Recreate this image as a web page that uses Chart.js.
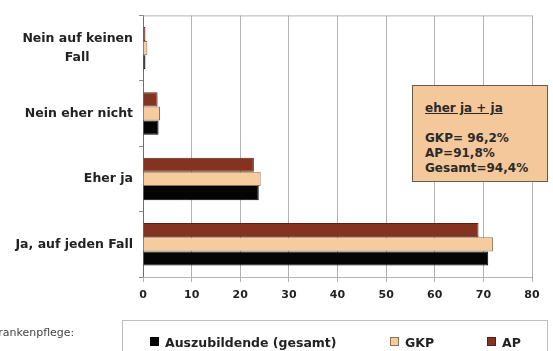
<!DOCTYPE html>
<html>
<head>
<meta charset="utf-8">
<script src="https://cdn.jsdelivr.net/npm/chart.js@4"></script>
<style>
  body { margin: 0; background: #fff; font-family: "DejaVu Sans", sans-serif; }
  #wrap { position: relative; width: 553px; height: 351px; overflow: hidden; }
  #note {
    position: absolute; left: 412px; top: 85px; width: 136px; height: 97px;
    background: #f5c89b; border: 1px solid #6b5a4e; box-sizing: border-box;
    font-size: 12px; font-weight: bold; color: #2a2a2a; padding: 15px 0 0 12px; line-height: 15px;
  }
  #note .head { text-decoration: underline; margin-bottom: 15px; }
  #side { position: absolute; left: -9px; top: 326px; font-size: 11px; color: #444; white-space: nowrap; }
  #legend {
    position: absolute; left: 122px; top: 320px; width: 426px; height: 40px;
    border: 1px solid #bdbdbd; box-sizing: border-box;
  }
  #legend span { position: absolute; top: 14px; font-size: 12.5px; font-weight: bold; color: #222; white-space: nowrap; }
  #legend i { display: inline-block; width: 7px; height: 7px; margin-right: 6px; vertical-align: 1px; }
</style>
</head>
<body>
<div id="wrap">
  <canvas id="c" width="553" height="351"></canvas>
  <div id="note">
    <div class="head">eher ja + ja</div>
    <div>GKP= 96,2%</div>
    <div>AP=91,8%</div>
    <div>Gesamt=94,4%</div>
  </div>
  <div id="side">Krankenpflege:</div>
  <div id="legend"></div>
</div>
<script>
// Categories, top to bottom (trailing spaces centre "Fall" under the first line)
const categories = [['Nein auf keinen', 'Fall          '], 'Nein eher nicht', 'Eher ja', 'Ja, auf jeden Fall'];

// Values in percent
const apValues = [0.5, 3.0, 22.8, 69.0];
const gkpValues = [0.9, 3.5, 24.2, 72.0];
const gesamtValues = [0.5, 3.2, 23.8, 71.0];

const xTicks = [0, 10, 20, 30, 40, 50, 60, 70, 80];

// light frame round the plot area
const frame = {
    id: 'frame',
    beforeDatasetsDraw(chart) {
        const a = chart.chartArea, ctx = chart.ctx;
        ctx.save();
        ctx.strokeStyle = '#b5b5b5';
        ctx.lineWidth = 1;
        ctx.beginPath();
        ctx.moveTo(a.left, a.top + 0.5);
        ctx.lineTo(a.right, a.top + 0.5);
        ctx.moveTo(a.left, a.bottom + 0.5);
        ctx.lineTo(a.right, a.bottom + 0.5);
        ctx.stroke();
        ctx.restore();
    }
};

const chart = new Chart(document.getElementById('c'), {
    type: 'bar',
    data: {
        labels: categories,
        datasets: [
            { label: 'AP', data: apValues, backgroundColor: '#843320', borderColor: '#5a1f12', borderWidth: 1 },
            { label: 'GKP', data: gkpValues, backgroundColor: '#f6cc9f', borderColor: '#8a7355', borderWidth: 1 },
            { label: 'Auszubildende (gesamt)', data: gesamtValues, backgroundColor: '#050505', borderColor: '#000', borderWidth: 1 }
        ]
    },
    options: {
        indexAxis: 'y',
        responsive: false,
        animation: false,
        layout: { padding: { top: 8, right: 21, left: 0, bottom: 0 } },
        categoryPercentage: 0.65,
        barPercentage: 1,
        scales: {
            x: {
                min: 0,
                max: 80,
                afterBuildTicks: axis => { axis.ticks = xTicks.map(v => ({ value: v })); },
                afterFit: axis => { axis.height = 74; },
                grid: { color: '#b3b3b3', tickLength: 5 },
                border: { color: '#8c8c8c' },
                ticks: { color: '#222', padding: 7, font: { family: 'DejaVu Sans', size: 11, weight: 'bold' } }
            },
            y: {
                afterFit: axis => { axis.width = 143; },
                grid: { drawOnChartArea: false, tickLength: 4, color: '#8c8c8c' },
                border: { color: '#6e6e6e' },
                ticks: { color: '#222', padding: 6, font: { family: 'DejaVu Sans', size: 12.5, weight: 'bold', lineHeight: 1.5 } }
            }
        },
        plugins: {
            legend: { display: false },
            tooltip: { enabled: false }
        }
    },
    plugins: [frame]
});

// legend in reversed dataset order, as in the original
const legendPos = [27, 267, 364];
const legendEl = document.getElementById('legend');
chart.data.datasets.slice().reverse().forEach((ds, i) => {
    const s = document.createElement('span');
    s.style.left = legendPos[i] + 'px';
    s.innerHTML = '<i style="background:' + ds.backgroundColor + ';border:1px solid ' + ds.borderColor + '"></i>' + ds.label;
    legendEl.appendChild(s);
});
</script>
</body>
</html>
